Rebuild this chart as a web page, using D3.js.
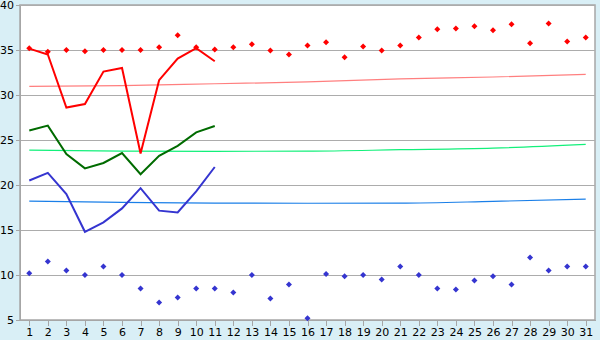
<!DOCTYPE html>
<html>
<head>
<meta charset="utf-8">
<script src="https://cdn.jsdelivr.net/npm/d3@7"></script>
<style>
  body { margin: 0; background: #d9eff6; }
  svg { display: block; }
  .axis text { font-family: "DejaVu Sans", Verdana, sans-serif; font-size: 11px; fill: #000; }
  .axis path, .axis line { stroke: #a6a6a6; shape-rendering: crispEdges; }
</style>
</head>
<body>
<script>
// day categories 1..31
var days = [1,2,3,4,5,6,7,8,9,10,11,12,13,14,15,16,17,18,19,20,21,22,23,24,25,26,27,28,29,30,31];
var yTicks = [5,10,15,20,25,30,35,40];

// scatter series (one value per day)
var redPoints = [35.2,34.8,35.0,34.85,35.0,35.0,35.0,35.3,36.65,35.3,35.05,35.3,35.65,34.95,34.5,35.5,35.85,34.2,35.4,34.95,35.5,36.4,37.3,37.4,37.65,37.2,37.85,35.75,37.95,35.95,36.4];
var bluePoints = [10.2,11.5,10.5,10.0,10.95,10.0,8.5,6.95,7.5,8.5,8.5,8.05,10.0,7.4,8.95,5.2,10.1,9.85,10.0,9.5,10.95,10.0,8.5,8.4,9.4,9.85,8.95,11.95,10.5,10.95,10.95];

// lines, days 1-11 only
var redLine = [35.15,34.5,28.6,29.0,32.6,33.0,23.5,31.65,34.05,35.2,33.75];
var greenLine = [26.05,26.6,23.45,21.85,22.45,23.55,21.2,23.25,24.35,25.85,26.55];
var blueLine = [20.5,21.35,19.0,14.8,15.85,17.4,19.65,17.15,16.95,19.3,22.0];

// trend curves, read at a few days
var trendDays = [1,6,11,16,21,26,31];
var redTrend = [30.95,31.05,31.25,31.45,31.8,32.0,32.3];
var greenTrend = [23.87,23.77,23.74,23.76,23.92,24.1,24.52];
var blueTrend = [18.2,18.08,17.98,17.97,17.98,18.18,18.43];

var w = 600, h = 340;
var margin = { top: 5, right: 5, bottom: 20, left: 20 };
var width = w - margin.left - margin.right;
var height = h - margin.top - margin.bottom;

var svg = d3.select("body").append("svg")
    .attr("width", w)
    .attr("height", h);

var chart = svg.append("g")
    .attr("transform", "translate(" + margin.left + "," + margin.top + ")");

var x = d3.scalePoint()
    .domain(days)
    .range([0, width])
    .padding(0.5);
var y = d3.scaleLinear()
    .domain([5, 40])
    .range([height, 0]);

// plot area
chart.append("rect")
    .attr("width", width)
    .attr("height", height)
    .attr("fill", "#fff")
    .attr("stroke", "#a6a6a6")
    .attr("stroke-width", 1.5);

// grid
chart.selectAll(".grid")
    .data(yTicks)
    .enter()
    .append("line")
    .attr("x1", 0)
    .attr("x2", width)
    .attr("y1", function (d) { return Math.round(y(d)) + 0.5; })
    .attr("y2", function (d) { return Math.round(y(d)) + 0.5; })
    .attr("stroke", "#acacac")
    .attr("shape-rendering", "crispEdges");

// axes
chart.append("g")
    .classed("axis", true)
    .attr("transform", "translate(0," + height + ")")
    .call(d3.axisBottom(x).tickSize(6).tickSizeOuter(0).tickPadding(2));
chart.append("g")
    .classed("axis", true)
    .call(d3.axisLeft(y).tickValues(yTicks).tickSize(4).tickSizeOuter(0).tickPadding(2));

// trend curves
var trendline = d3.line()
    .x(function (d) { return x(d[0]); })
    .y(function (d) { return y(d[1]); })
    .curve(d3.curveMonotoneX);
[[redTrend, "#ff7f7f"], [greenTrend, "#12f07a"], [blueTrend, "#1a7fe8"]].forEach(function (t) {
    chart.append("path")
        .datum(d3.zip(trendDays, t[0]))
        .attr("d", trendline)
        .attr("fill", "none")
        .attr("stroke", t[1])
        .attr("stroke-width", 1.2);
});

// main lines
var line = d3.line()
    .x(function (d, i) { return x(days[i]); })
    .y(function (d) { return y(d); });
[[redLine, "#ff0000"], [greenLine, "#006b00"], [blueLine, "#3535d0"]].forEach(function (l) {
    chart.append("path")
        .datum(l[0])
        .attr("d", line)
        .attr("fill", "none")
        .attr("stroke", l[1])
        .attr("stroke-width", 2);
});

// point markers (square turned 45deg)
var marker = d3.symbol().type(d3.symbolSquare).size(18);
[[redPoints, "#ff0000"], [bluePoints, "#3535d0"]].forEach(function (p) {
    chart.append("g")
        .selectAll("path")
        .data(p[0])
        .enter()
        .append("path")
        .attr("d", marker)
        .attr("transform", function (d, i) {
            return "translate(" + x(days[i]) + "," + y(d) + ") rotate(45)";
        })
        .attr("fill", p[1]);
});
</script>
</body>
</html>
